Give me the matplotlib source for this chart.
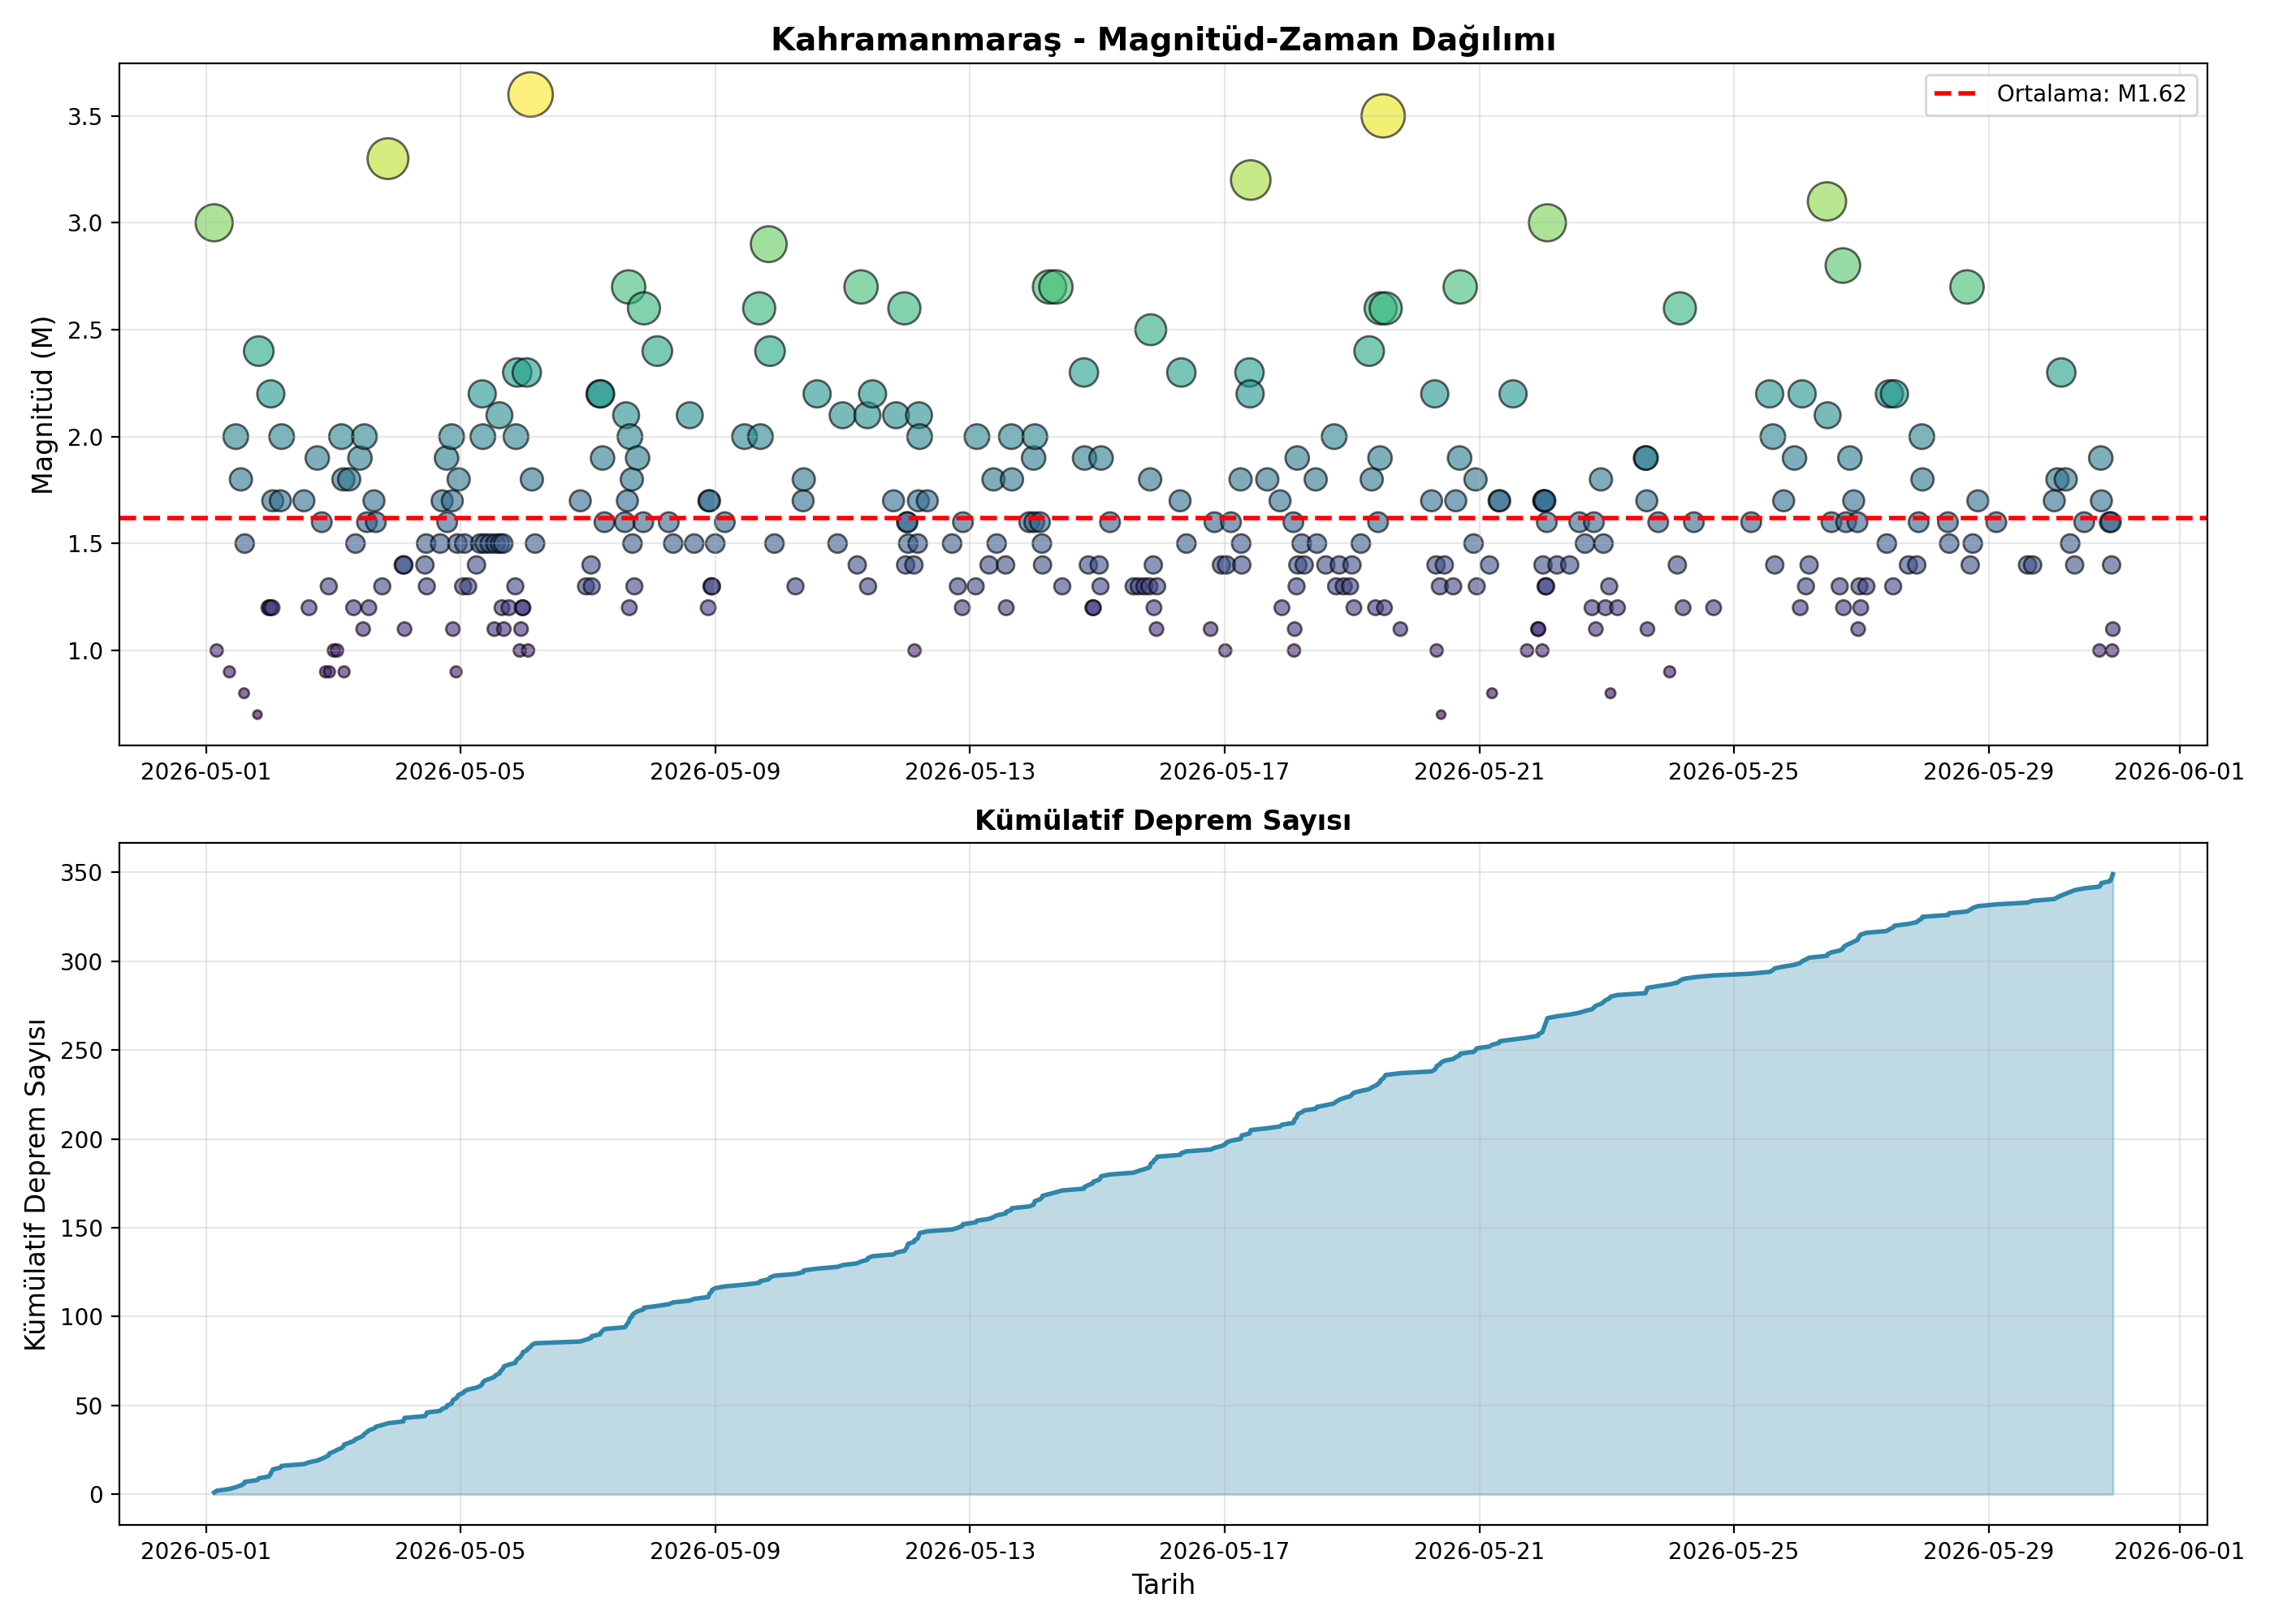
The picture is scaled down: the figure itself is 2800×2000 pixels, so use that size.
import numpy as np
import pandas as pd
import matplotlib
matplotlib.use('Agg')
import matplotlib.pyplot as plt

# DATA: event time as days after 2026-05-01 00:00, and magnitude

event_days = [
    0.13, 0.17, 0.37, 0.47, 0.55, 0.60, 0.61, 0.81, 0.83, 0.99,
    1.01, 1.02, 1.04, 1.05, 1.17, 1.19, 1.54, 1.62, 1.75, 1.82,
    1.88, 1.93, 1.94, 2.01, 2.06, 2.13, 2.16, 2.17, 2.25, 2.32,
    2.35, 2.42, 2.47, 2.49, 2.53, 2.56, 2.64, 2.67, 2.77, 2.86,
    3.10, 3.11, 3.12, 3.44, 3.46, 3.47, 3.68, 3.71, 3.78, 3.79,
    3.86, 3.87, 3.88, 3.93, 3.95, 3.97, 4.04, 4.06, 4.12, 4.25,
    4.31, 4.34, 4.35, 4.38, 4.46, 4.53, 4.55, 4.61, 4.62, 4.65,
    4.67, 4.68, 4.76, 4.86, 4.87, 4.89, 4.93, 4.95, 4.97, 4.98,
    5.04, 5.06, 5.10, 5.12, 5.17, 5.88, 5.97, 6.05, 6.06, 6.19,
    6.20, 6.23, 6.26, 6.58, 6.60, 6.62, 6.64, 6.65, 6.66, 6.69,
    6.70, 6.73, 6.78, 6.87, 6.88, 7.09, 7.27, 7.34, 7.60, 7.67,
    7.89, 7.90, 7.91, 7.94, 7.95, 8.00, 8.15, 8.46, 8.69, 8.71,
    8.84, 8.86, 8.93, 9.26, 9.38, 9.39, 9.60, 9.92, 10.00, 10.23,
    10.29, 10.39, 10.40, 10.47, 10.80, 10.84, 10.97, 10.99, 11.01, 11.02,
    11.03, 11.12, 11.13, 11.18, 11.19, 11.20, 11.21, 11.33, 11.72, 11.81,
    11.88, 11.89, 12.09, 12.11, 12.30, 12.37, 12.42, 12.56, 12.57, 12.65,
    12.66, 12.93, 13.00, 13.01, 13.02, 13.10, 13.13, 13.14, 13.25, 13.35,
    13.45, 13.79, 13.80, 13.86, 13.93, 13.94, 14.03, 14.05, 14.06, 14.20,
    14.57, 14.65, 14.74, 14.82, 14.83, 14.84, 14.88, 14.89, 14.93, 14.94,
    15.30, 15.32, 15.40, 15.78, 15.84, 15.95, 16.01, 16.03, 16.10, 16.25,
    16.26, 16.27, 16.39, 16.40, 16.41, 16.67, 16.87, 16.90, 17.08, 17.09,
    17.10, 17.13, 17.14, 17.15, 17.21, 17.25, 17.43, 17.45, 17.59, 17.72,
    17.75, 17.80, 17.87, 17.97, 18.00, 18.03, 18.14, 18.27, 18.31, 18.37,
    18.41, 18.44, 18.45, 18.49, 18.51, 18.53, 18.76, 19.25, 19.30, 19.32,
    19.33, 19.38, 19.40, 19.45, 19.59, 19.63, 19.69, 19.70, 19.91, 19.94,
    19.96, 20.16, 20.20, 20.31, 20.32, 20.53, 20.75, 20.92, 20.93, 20.99,
    21.00, 21.01, 21.02, 21.03, 21.04, 21.05, 21.06, 21.07, 21.22, 21.42,
    21.57, 21.66, 21.77, 21.80, 21.83, 21.91, 21.95, 21.98, 22.04, 22.06,
    22.17, 22.61, 22.62, 22.63, 22.64, 22.81, 22.99, 23.11, 23.15, 23.20,
    23.37, 23.68, 24.27, 24.56, 24.61, 24.64, 24.78, 24.95, 25.04, 25.07,
    25.13, 25.18, 25.46, 25.47, 25.53, 25.66, 25.71, 25.72, 25.76, 25.82,
    25.88, 25.94, 25.95, 25.97, 25.99, 26.08, 26.40, 26.44, 26.50, 26.52,
    26.74, 26.87, 26.90, 26.95, 26.96, 27.36, 27.38, 27.66, 27.71, 27.75,
    27.83, 28.12, 28.61, 28.69, 29.03, 29.08, 29.14, 29.21, 29.28, 29.35,
    29.50, 29.74, 29.76, 29.77, 29.90, 29.92, 29.93, 29.94, 29.95,
]

magnitudes = [
    3.0, 1.0, 0.9, 2.0, 1.8, 0.8, 1.5, 0.7, 2.4, 1.2,
    1.2, 2.2, 1.2, 1.7, 1.7, 2.0, 1.7, 1.2, 1.9, 1.6,
    0.9, 1.3, 0.9, 1.0, 1.0, 2.0, 1.8, 0.9, 1.8, 1.2,
    1.5, 1.9, 1.1, 2.0, 1.6, 1.2, 1.7, 1.6, 1.3, 3.3,
    1.4, 1.4, 1.1, 1.4, 1.5, 1.3, 1.5, 1.7, 1.9, 1.6,
    2.0, 1.7, 1.1, 0.9, 1.5, 1.8, 1.3, 1.5, 1.3, 1.4,
    1.5, 2.2, 2.0, 1.5, 1.5, 1.1, 1.5, 2.1, 1.5, 1.2,
    1.5, 1.1, 1.2, 1.3, 2.0, 2.3, 1.0, 1.1, 1.2, 1.2,
    2.3, 1.0, 3.6, 1.8, 1.5, 1.7, 1.3, 1.4, 1.3, 2.2,
    2.2, 1.9, 1.6, 1.6, 2.1, 1.7, 2.7, 1.2, 2.0, 1.8,
    1.5, 1.3, 1.9, 1.6, 2.6, 2.4, 1.6, 1.5, 2.1, 1.5,
    1.2, 1.7, 1.7, 1.3, 1.3, 1.5, 1.6, 2.0, 2.6, 2.0,
    2.9, 2.4, 1.5, 1.3, 1.7, 1.8, 2.2, 1.5, 2.1, 1.4,
    2.7, 2.1, 1.3, 2.2, 1.7, 2.1, 2.6, 1.4, 1.6, 1.6,
    1.5, 1.4, 1.0, 1.5, 1.7, 2.1, 2.0, 1.7, 1.5, 1.3,
    1.2, 1.6, 1.3, 2.0, 1.4, 1.8, 1.5, 1.4, 1.2, 2.0,
    1.8, 1.6, 1.9, 1.6, 2.0, 1.6, 1.5, 1.4, 2.7, 2.7,
    1.3, 2.3, 1.9, 1.4, 1.2, 1.2, 1.4, 1.3, 1.9, 1.6,
    1.3, 1.3, 1.3, 1.3, 1.8, 2.5, 1.4, 1.2, 1.1, 1.3,
    1.7, 2.3, 1.5, 1.1, 1.6, 1.4, 1.0, 1.4, 1.6, 1.8,
    1.5, 1.4, 2.3, 2.2, 3.2, 1.8, 1.7, 1.2, 1.6, 1.0,
    1.1, 1.3, 1.9, 1.4, 1.5, 1.4, 1.8, 1.5, 1.4, 2.0,
    1.3, 1.4, 1.3, 1.3, 1.4, 1.2, 1.5, 2.4, 1.8, 1.2,
    1.6, 1.9, 2.6, 3.5, 1.2, 2.6, 1.1, 1.7, 2.2, 1.4,
    1.0, 1.3, 0.7, 1.4, 1.3, 1.7, 1.9, 2.7, 1.5, 1.8,
    1.3, 1.4, 0.8, 1.7, 1.7, 2.2, 1.0, 1.1, 1.1, 1.0,
    1.4, 1.7, 1.7, 1.7, 1.3, 1.3, 1.6, 3.0, 1.4, 1.4,
    1.6, 1.5, 1.2, 1.6, 1.1, 1.8, 1.5, 1.2, 1.3, 0.8,
    1.2, 1.9, 1.9, 1.7, 1.1, 1.6, 0.9, 1.4, 2.6, 1.2,
    1.6, 1.2, 1.6, 2.2, 2.0, 1.4, 1.7, 1.9, 1.2, 2.2,
    1.3, 1.4, 3.1, 2.1, 1.6, 1.3, 2.8, 1.2, 1.6, 1.9,
    1.7, 1.6, 1.1, 1.3, 1.2, 1.3, 1.5, 2.2, 1.3, 2.2,
    1.4, 1.4, 1.6, 2.0, 1.8, 1.6, 1.5, 2.7, 1.4, 1.5,
    1.7, 1.6, 1.4, 1.4, 1.7, 1.8, 2.3, 1.8, 1.5, 1.4,
    1.6, 1.0, 1.9, 1.7, 1.6, 1.6, 1.4, 1.0, 1.1,
]

city = 'Kahramanmaraş'

# PREPARE

times = pd.Timestamp('2026-05-01') + pd.to_timedelta(event_days, unit='D')
mags = np.array(magnitudes)
mean_mag = mags.mean()
cumulative = np.arange(1, len(mags) + 1)

# PLOT

fig, (ax1, ax2) = plt.subplots(2, 1, figsize=(14, 10), dpi=200)

# Magnitude vs time scatter
ax1.scatter(times, mags, c=mags, cmap='viridis', s=mags**2 * 30,
            alpha=0.6, edgecolors='black', linewidth=1)
ax1.axhline(y=mean_mag, color='red', linestyle='--', linewidth=2,
            label=f'Ortalama: M{mean_mag:.2f}')
ax1.set_ylabel('Magnitüd (M)', fontsize=12)
ax1.set_title(f'{city} - Magnitüd-Zaman Dağılımı', fontsize=14, fontweight='bold')
ax1.legend()
ax1.grid(True, alpha=0.3)

# Cumulative count
ax2.plot(times, cumulative, color='#2E86AB', linewidth=2)
ax2.fill_between(times, cumulative, alpha=0.3, color='#2E86AB')
ax2.set_xlabel('Tarih', fontsize=12)
ax2.set_ylabel('Kümülatif Deprem Sayısı', fontsize=12)
ax2.set_title('Kümülatif Deprem Sayısı', fontsize=12, fontweight='bold')
ax2.grid(True, alpha=0.3)

plt.tight_layout()
plt.savefig('out.png', dpi=200)
